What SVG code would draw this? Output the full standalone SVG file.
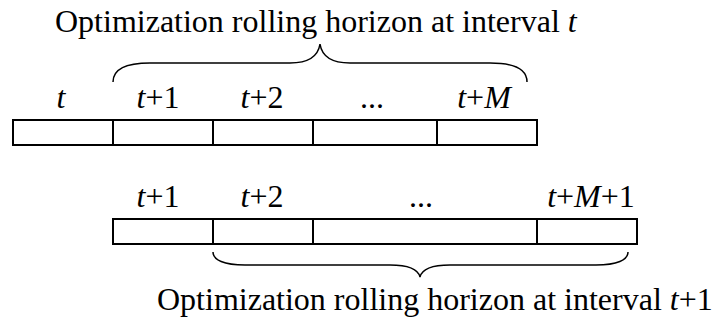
<svg xmlns="http://www.w3.org/2000/svg" width="714" height="323" viewBox="0 0 714 323">
<style>
.t{font-family:"Liberation Serif","Times New Roman",serif;font-size:32px;fill:#000}
.l{text-anchor:middle}
.i{font-style:italic}
.box{fill:#fff;stroke:#000;stroke-width:2}
.br{fill:none;stroke:#000;stroke-width:1.5}
</style>
<rect width="714" height="323" fill="#fff"/>
<g id="title-top"><text class="t" x="55" y="32">Optimization rolling horizon at interval <tspan class="i">t</tspan></text></g>
<g id="row-top">
<g id="cell-t"><rect class="box" x="13" y="120" width="100" height="25"/><text class="t l i" x="61" y="108">t</text></g>
<g id="cell-t1"><rect class="box" x="113" y="120" width="100" height="25"/><text class="t l" x="158" y="108"><tspan class="i">t</tspan>+1</text></g>
<g id="cell-t2"><rect class="box" x="213" y="120" width="100" height="25"/><text class="t l" x="262" y="108"><tspan class="i">t</tspan>+2</text></g>
<g id="cell-dots"><rect class="box" x="313" y="120" width="124" height="25"/><text class="t l" x="372" y="108">...</text></g>
<g id="cell-tM"><rect class="box" x="437" y="120" width="100" height="25"/><text class="t l" x="484" y="108"><tspan class="i">t</tspan>+<tspan class="i">M</tspan></text></g>
</g>
<g id="row-bottom">
<g id="cell-b-t1"><rect class="box" x="113" y="219" width="100" height="25"/><text class="t l" x="158" y="207"><tspan class="i">t</tspan>+1</text></g>
<g id="cell-b-t2"><rect class="box" x="213" y="219" width="100" height="25"/><text class="t l" x="262" y="207"><tspan class="i">t</tspan>+2</text></g>
<g id="cell-b-dots"><rect class="box" x="313" y="219" width="224" height="25"/><text class="t l" x="421" y="207">...</text></g>
<g id="cell-b-tM1"><rect class="box" x="537" y="219" width="100" height="25"/><text class="t l" x="591" y="207"><tspan class="i">t</tspan>+<tspan class="i">M</tspan>+1</text></g>
</g>
<g id="connectors">
<path class="br" d="M113,82 C113,70 125,63 150,63 L290,63 C308,63 318,57 320,44 C322,57 332,63 350,63 L490,63 C515,63 527,70 527,82"/>
<path class="br" d="M213,252 C213,260 224,265 245,265 L390,265 C408,265 418,269 420,277 C422,269 432,265 450,265 L596,265 C617,265 628,260 628,252"/>
</g>
<g id="title-bottom"><text class="t" x="157" y="310">Optimization rolling horizon at interval <tspan class="i">t</tspan>+1</text></g>
</svg>
